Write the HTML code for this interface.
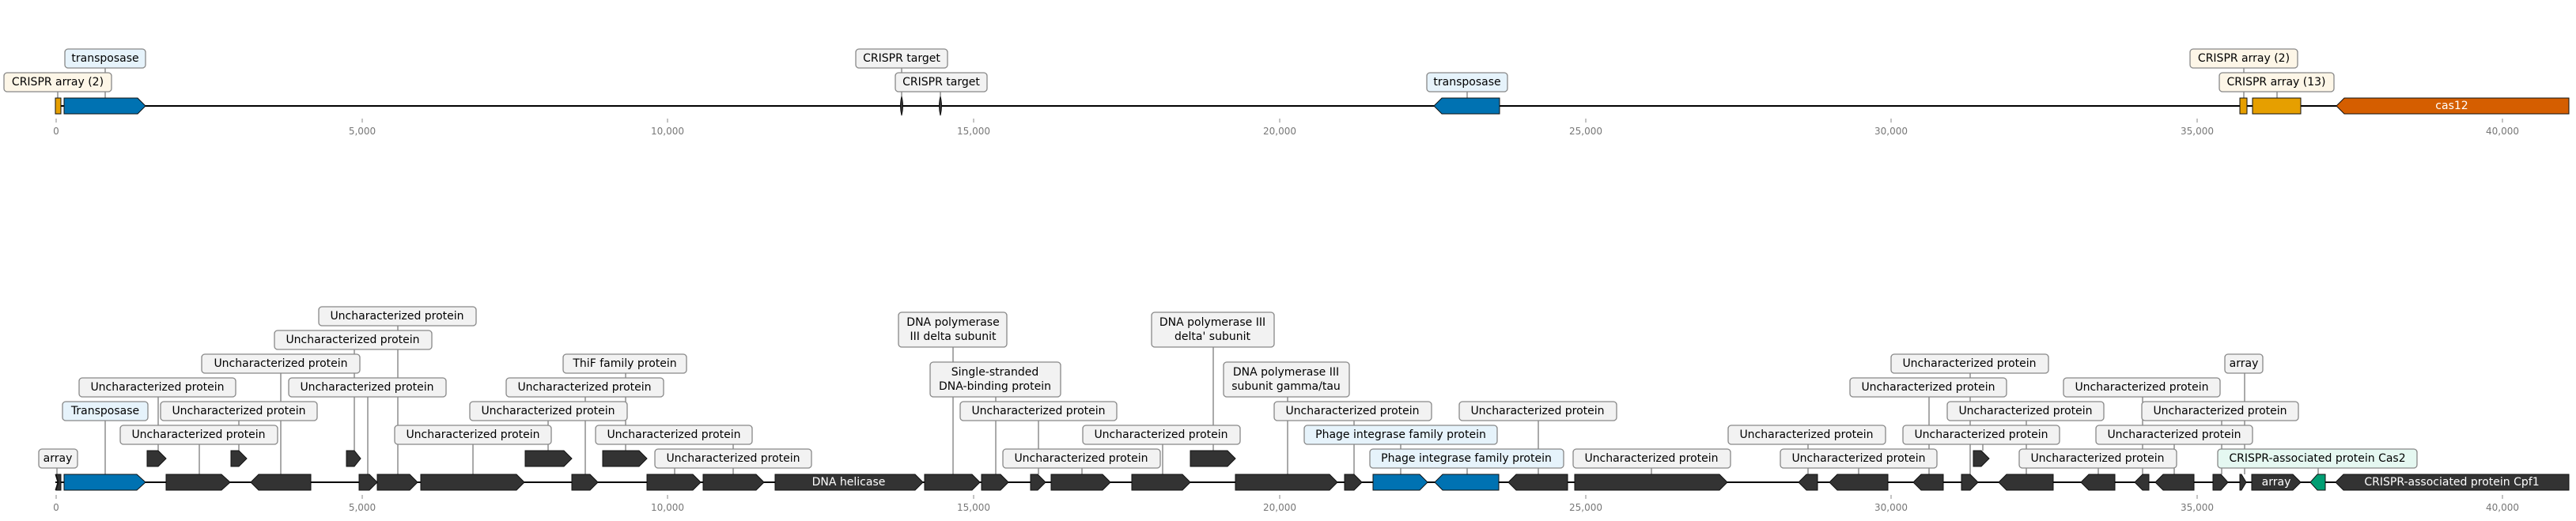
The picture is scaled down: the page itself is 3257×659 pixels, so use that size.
<!DOCTYPE html>
<html><head><meta charset="utf-8"><style>
html,body{margin:0;padding:0;background:#fff;}
svg{display:block;}
text{font-family:"DejaVu Sans","Liberation Sans",sans-serif;}
.lb{font-size:14px;fill:#000;text-anchor:middle;dominant-baseline:central;}
.ax{font-size:12px;fill:#777;text-anchor:middle;dominant-baseline:central;}
.g{fill:#333;stroke:#111;stroke-width:1;}
.bx{stroke:#888;stroke-width:1.3;}
.ln{stroke:#555;stroke-width:1;}
.wt{font-size:14px;fill:#fff;text-anchor:middle;dominant-baseline:central;}
</style></head><body>
<svg width="3257" height="659" viewBox="0 0 3257 659" xmlns="http://www.w3.org/2000/svg">
<!-- ===== TOP TRACK ===== -->
<g>
<line x1="70" y1="134" x2="3248" y2="134" stroke="#000" stroke-width="2"/>
<!-- lines -->
<line class="ln" x1="73" y1="104" x2="73" y2="124"/>
<line class="ln" x1="133" y1="74" x2="133" y2="124"/>
<line class="ln" x1="1140" y1="74" x2="1140" y2="124"/>
<line class="ln" x1="1189" y1="104" x2="1189" y2="124"/>
<line class="ln" x1="1855" y1="104" x2="1855" y2="124"/>
<line class="ln" x1="2837" y1="74" x2="2837" y2="124"/>
<line class="ln" x1="2879" y1="104" x2="2879" y2="124"/>
<!-- genes -->
<rect x="70" y="124" width="7" height="20" fill="#e69f00" stroke="#111"/>
<polygon points="81,124 174,124 184,134 174,144 81,144" fill="#0072b2" stroke="#111"/>
<path d="M1140,122 Q1137,134 1140,146 Q1143,134 1140,122Z" fill="#333" stroke="#111"/>
<path d="M1189,122 Q1186,134 1189,146 Q1192,134 1189,122Z" fill="#333" stroke="#111"/>
<polygon points="1813,134 1823,124 1896,124 1896,144 1823,144" fill="#0072b2" stroke="#111"/>
<rect x="2832" y="124" width="9" height="20" fill="#e69f00" stroke="#111"/>
<rect x="2848" y="124" width="61" height="20" fill="#e69f00" stroke="#111"/>
<polygon points="2954,134 2964,124 3248,124 3248,144 2964,144" fill="#d55e00" stroke="#111"/>
<text class="wt" x="3100" y="134">cas12</text>
<!-- labels -->
<rect class="bx" x="5" y="92" width="136" height="24" rx="4" fill="#fdf6e7"/><text class="lb" x="73" y="104">CRISPR array (2)</text>
<rect class="bx" x="82" y="62" width="102" height="24" rx="4" fill="#e6f3fb"/><text class="lb" x="133" y="74">transposase</text>
<rect class="bx" x="1082" y="62" width="116" height="24" rx="4" fill="#f2f2f2"/><text class="lb" x="1140" y="74">CRISPR target</text>
<rect class="bx" x="1132" y="92" width="116" height="24" rx="4" fill="#f2f2f2"/><text class="lb" x="1190" y="104">CRISPR target</text>
<rect class="bx" x="1804" y="92" width="102" height="24" rx="4" fill="#e6f3fb"/><text class="lb" x="1855" y="104">transposase</text>
<rect class="bx" x="2769" y="62" width="136" height="24" rx="4" fill="#fdf6e7"/><text class="lb" x="2837" y="74">CRISPR array (2)</text>
<rect class="bx" x="2806" y="92" width="145" height="24" rx="4" fill="#fdf6e7"/><text class="lb" x="2878" y="104">CRISPR array (13)</text>
<!-- axis -->
<g stroke="#888" stroke-width="1">
<line x1="71" y1="150" x2="71" y2="155"/><line x1="458" y1="150" x2="458" y2="155"/><line x1="844" y1="150" x2="844" y2="155"/><line x1="1231" y1="150" x2="1231" y2="155"/><line x1="1618" y1="150" x2="1618" y2="155"/><line x1="2005" y1="150" x2="2005" y2="155"/><line x1="2391" y1="150" x2="2391" y2="155"/><line x1="2778" y1="150" x2="2778" y2="155"/><line x1="3164" y1="150" x2="3164" y2="155"/>
</g>
<text class="ax" x="71" y="166">0</text><text class="ax" x="458" y="166">5,000</text><text class="ax" x="844" y="166">10,000</text><text class="ax" x="1231" y="166">15,000</text><text class="ax" x="1618" y="166">20,000</text><text class="ax" x="2005" y="166">25,000</text><text class="ax" x="2391" y="166">30,000</text><text class="ax" x="2778" y="166">35,000</text><text class="ax" x="3164" y="166">40,000</text>
</g>

<!-- ===== BOTTOM TRACK ===== -->
<g>
<line x1="70" y1="610" x2="3248" y2="610" stroke="#000" stroke-width="2"/>
<!-- connector lines -->
<g class="ln">
<line x1="72" y1="580" x2="72" y2="600"/>
<line x1="133" y1="520" x2="133" y2="600"/>
<line x1="200" y1="490" x2="200" y2="570"/>
<line x1="252" y1="550" x2="252" y2="600"/>
<line x1="302" y1="520" x2="302" y2="570"/>
<line x1="355" y1="460" x2="355" y2="600"/>
<line x1="448" y1="430" x2="448" y2="570"/>
<line x1="503" y1="400" x2="503" y2="600"/>
<line x1="465" y1="490" x2="465" y2="600"/>
<line x1="598" y1="550" x2="598" y2="600"/>
<line x1="791" y1="460" x2="791" y2="570"/>
<line x1="740" y1="490" x2="740" y2="600"/>
<line x1="693" y1="520" x2="693" y2="570"/>
<line x1="853" y1="580" x2="853" y2="600"/>
<line x1="927" y1="550" x2="927" y2="600"/>
<line x1="1205" y1="417" x2="1205" y2="600"/>
<line x1="1259" y1="480" x2="1259" y2="600"/>
<line x1="1313" y1="520" x2="1313" y2="600"/>
<line x1="1470" y1="550" x2="1470" y2="600"/>
<line x1="1368" y1="580" x2="1368" y2="600"/>
<line x1="1534" y1="417" x2="1534" y2="570"/>
<line x1="1628" y1="480" x2="1628" y2="600"/>
<line x1="1712" y1="520" x2="1712" y2="600"/>
<line x1="1771" y1="550" x2="1771" y2="600"/>
<line x1="1855" y1="580" x2="1855" y2="600"/>
<line x1="1945" y1="520" x2="1945" y2="600"/>
<line x1="2088" y1="580" x2="2088" y2="600"/>
<line x1="2286" y1="550" x2="2286" y2="600"/>
<line x1="2350" y1="580" x2="2350" y2="600"/>
<line x1="2439" y1="490" x2="2439" y2="600"/>
<line x1="2491" y1="460" x2="2491" y2="600"/>
<line x1="2507" y1="550" x2="2507" y2="570"/>
<line x1="2562" y1="520" x2="2562" y2="600"/>
<line x1="2653" y1="580" x2="2653" y2="600"/>
<line x1="2709" y1="490" x2="2709" y2="600"/>
<line x1="2749" y1="550" x2="2749" y2="600"/>
<line x1="2809" y1="520" x2="2809" y2="600"/>
<line x1="2838" y1="460" x2="2838" y2="600"/>
<line x1="2931" y1="580" x2="2931" y2="600"/>
</g>
<!-- genes main row (600-620) -->
<g class="g">
<polygon points="70,600 76,610 70,620 73,610"/>
<polygon points="71,600 77,600 77,620 71,620 74,610" />
<polygon points="81,600 173,600 184,610 173,620 81,620" fill="#0072b2"/>
<polygon points="210,600 280,600 291,610 280,620 210,620"/>
<polygon points="317,610 327,600 393,600 393,620 327,620"/>
<polygon points="454,600 467,600 477,610 467,620 454,620"/>
<polygon points="477,600 518,600 528,610 518,620 477,620"/>
<polygon points="532,600 653,600 663,610 653,620 532,620"/>
<polygon points="723,600 746,600 756,610 746,620 723,620"/>
<polygon points="818,600 876,600 886,610 876,620 818,620"/>
<polygon points="889,600 956,600 966,610 956,620 889,620"/>
<polygon points="980,600 1157,600 1167,610 1157,620 980,620"/>
<polygon points="1169,600 1229,600 1239,610 1229,620 1169,620"/>
<polygon points="1241,600 1265,600 1275,610 1265,620 1241,620"/>
<polygon points="1303,600 1312,600 1322,610 1312,620 1303,620"/>
<polygon points="1329,600 1394,600 1404,610 1394,620 1329,620"/>
<polygon points="1431,600 1495,600 1505,610 1495,620 1431,620"/>
<polygon points="1562,600 1681,600 1691,610 1681,620 1562,620"/>
<polygon points="1700,600 1712,600 1722,610 1712,620 1700,620"/>
<polygon points="1736,600 1795,600 1805,610 1795,620 1736,620" fill="#0072b2"/>
<polygon points="1814,610 1824,600 1895,600 1895,620 1824,620" fill="#0072b2"/>
<polygon points="1907,610 1917,600 1982,600 1982,620 1917,620"/>
<polygon points="1991,600 2174,600 2184,610 2174,620 1991,620"/>
<polygon points="2274,610 2284,600 2298,600 2298,620 2284,620"/>
<polygon points="2313,610 2323,600 2387,600 2387,620 2323,620"/>
<polygon points="2419,610 2429,600 2457,600 2457,620 2429,620"/>
<polygon points="2480,600 2491,600 2501,610 2491,620 2480,620"/>
<polygon points="2527,610 2537,600 2596,600 2596,620 2537,620"/>
<polygon points="2631,610 2641,600 2674,600 2674,620 2641,620"/>
<polygon points="2699,610 2709,600 2717,600 2717,620 2709,620"/>
<polygon points="2725,610 2735,600 2774,600 2774,620 2735,620"/>
<polygon points="2798,600 2808,600 2817,610 2808,620 2798,620"/>
<polygon points="2832,600 2834,600 2840,610 2834,620 2832,620"/>
<polygon points="2847,600 2899,600 2909,610 2899,620 2847,620"/>
<polygon points="2921,610 2930,600 2940,600 2940,620 2930,620" fill="#009e73"/>
<polygon points="2953,610 2963,600 3248,600 3248,620 2963,620"/>
</g>
<!-- genes upper row (570-590) -->
<g class="g">
<polygon points="186,570 200,570 210,580 200,590 186,590"/>
<polygon points="292,570 302,570 312,580 302,590 292,590"/>
<polygon points="438,570 448,570 456,580 448,590 438,590"/>
<polygon points="664,570 713,570 723,580 713,590 664,590"/>
<polygon points="762,570 808,570 818,580 808,590 762,590"/>
<polygon points="1505,570 1552,570 1562,580 1552,590 1505,590"/>
<polygon points="2495,570 2505,570 2515,580 2505,590 2495,590"/>
</g>
<text class="wt" x="1073" y="610">DNA helicase</text>
<text class="wt" x="2878" y="610">array</text>
<text class="wt" x="3100" y="610">CRISPR-associated protein Cpf1</text>

<!-- label boxes -->
<g>
<rect class="bx" x="49" y="568" width="49" height="24" rx="4" fill="#f2f2f2"/><text class="lb" x="73" y="580">array</text>
<rect class="bx" x="79" y="508" width="108" height="24" rx="4" fill="#e6f3fb"/><text class="lb" x="133" y="520">Transposase</text>
<rect class="bx" x="100" y="478" width="198" height="24" rx="4" fill="#f2f2f2"/><text class="lb" x="199" y="490">Uncharacterized protein</text>
<rect class="bx" x="152" y="538" width="199" height="24" rx="4" fill="#f2f2f2"/><text class="lb" x="251" y="550">Uncharacterized protein</text>
<rect class="bx" x="203" y="508" width="198" height="24" rx="4" fill="#f2f2f2"/><text class="lb" x="302" y="520">Uncharacterized protein</text>
<rect class="bx" x="255" y="448" width="200" height="24" rx="4" fill="#f2f2f2"/><text class="lb" x="355" y="460">Uncharacterized protein</text>
<rect class="bx" x="347" y="418" width="199" height="24" rx="4" fill="#f2f2f2"/><text class="lb" x="446" y="430">Uncharacterized protein</text>
<rect class="bx" x="403" y="388" width="199" height="24" rx="4" fill="#f2f2f2"/><text class="lb" x="502" y="400">Uncharacterized protein</text>
<rect class="bx" x="365" y="478" width="199" height="24" rx="4" fill="#f2f2f2"/><text class="lb" x="464" y="490">Uncharacterized protein</text>
<rect class="bx" x="499" y="538" width="198" height="24" rx="4" fill="#f2f2f2"/><text class="lb" x="598" y="550">Uncharacterized protein</text>
<rect class="bx" x="712" y="448" width="156" height="24" rx="4" fill="#f2f2f2"/><text class="lb" x="790" y="460">ThiF family protein</text>
<rect class="bx" x="640" y="478" width="199" height="24" rx="4" fill="#f2f2f2"/><text class="lb" x="739" y="490">Uncharacterized protein</text>
<rect class="bx" x="594" y="508" width="199" height="24" rx="4" fill="#f2f2f2"/><text class="lb" x="693" y="520">Uncharacterized protein</text>
<rect class="bx" x="753" y="538" width="198" height="24" rx="4" fill="#f2f2f2"/><text class="lb" x="852" y="550">Uncharacterized protein</text>
<rect class="bx" x="828" y="568" width="198" height="24" rx="4" fill="#f2f2f2"/><text class="lb" x="927" y="580">Uncharacterized protein</text>

<rect class="bx" x="1136" y="395" width="137" height="44" rx="4" fill="#f2f2f2"/><text class="lb" x="1205" y="408">DNA polymerase</text><text class="lb" x="1205" y="426">III delta subunit</text>
<rect class="bx" x="1176" y="458" width="165" height="44" rx="4" fill="#f2f2f2"/><text class="lb" x="1258" y="471">Single-stranded</text><text class="lb" x="1258" y="489">DNA-binding protein</text>
<rect class="bx" x="1214" y="508" width="198" height="24" rx="4" fill="#f2f2f2"/><text class="lb" x="1313" y="520">Uncharacterized protein</text>
<rect class="bx" x="1369" y="538" width="199" height="24" rx="4" fill="#f2f2f2"/><text class="lb" x="1468" y="550">Uncharacterized protein</text>
<rect class="bx" x="1268" y="568" width="199" height="24" rx="4" fill="#f2f2f2"/><text class="lb" x="1367" y="580">Uncharacterized protein</text>
<rect class="bx" x="1456" y="395" width="155" height="44" rx="4" fill="#f2f2f2"/><text class="lb" x="1533" y="408">DNA polymerase III</text><text class="lb" x="1533" y="426">delta' subunit</text>
<rect class="bx" x="1547" y="458" width="159" height="44" rx="4" fill="#f2f2f2"/><text class="lb" x="1626" y="471">DNA polymerase III</text><text class="lb" x="1626" y="489">subunit gamma/tau</text>
<rect class="bx" x="1611" y="508" width="199" height="24" rx="4" fill="#f2f2f2"/><text class="lb" x="1710" y="520">Uncharacterized protein</text>
<rect class="bx" x="1649" y="538" width="244" height="24" rx="4" fill="#e6f3fb"/><text class="lb" x="1771" y="550">Phage integrase family protein</text>
<rect class="bx" x="1732" y="568" width="245" height="24" rx="4" fill="#e6f3fb"/><text class="lb" x="1854" y="580">Phage integrase family protein</text>
<rect class="bx" x="1845" y="508" width="199" height="24" rx="4" fill="#f2f2f2"/><text class="lb" x="1944" y="520">Uncharacterized protein</text>
<rect class="bx" x="1989" y="568" width="199" height="24" rx="4" fill="#f2f2f2"/><text class="lb" x="2088" y="580">Uncharacterized protein</text>

<rect class="bx" x="2185" y="538" width="199" height="24" rx="4" fill="#f2f2f2"/><text class="lb" x="2284" y="550">Uncharacterized protein</text>
<rect class="bx" x="2251" y="568" width="198" height="24" rx="4" fill="#f2f2f2"/><text class="lb" x="2350" y="580">Uncharacterized protein</text>
<rect class="bx" x="2339" y="478" width="198" height="24" rx="4" fill="#f2f2f2"/><text class="lb" x="2438" y="490">Uncharacterized protein</text>
<rect class="bx" x="2391" y="448" width="199" height="24" rx="4" fill="#f2f2f2"/><text class="lb" x="2490" y="460">Uncharacterized protein</text>
<rect class="bx" x="2406" y="538" width="198" height="24" rx="4" fill="#f2f2f2"/><text class="lb" x="2505" y="550">Uncharacterized protein</text>
<rect class="bx" x="2462" y="508" width="198" height="24" rx="4" fill="#f2f2f2"/><text class="lb" x="2561" y="520">Uncharacterized protein</text>
<rect class="bx" x="2553" y="568" width="199" height="24" rx="4" fill="#f2f2f2"/><text class="lb" x="2652" y="580">Uncharacterized protein</text>
<rect class="bx" x="2609" y="478" width="198" height="24" rx="4" fill="#f2f2f2"/><text class="lb" x="2708" y="490">Uncharacterized protein</text>
<rect class="bx" x="2650" y="538" width="198" height="24" rx="4" fill="#f2f2f2"/><text class="lb" x="2749" y="550">Uncharacterized protein</text>
<rect class="bx" x="2708" y="508" width="198" height="24" rx="4" fill="#f2f2f2"/><text class="lb" x="2807" y="520">Uncharacterized protein</text>
<rect class="bx" x="2813" y="448" width="48" height="24" rx="4" fill="#f2f2f2"/><text class="lb" x="2837" y="460">array</text>
<rect class="bx" x="2804" y="568" width="252" height="24" rx="4" fill="#e5f8f1"/><text class="lb" x="2930" y="580">CRISPR-associated protein Cas2</text>
</g>

<!-- axis -->
<g stroke="#888" stroke-width="1">
<line x1="71" y1="626" x2="71" y2="631"/><line x1="458" y1="626" x2="458" y2="631"/><line x1="844" y1="626" x2="844" y2="631"/><line x1="1231" y1="626" x2="1231" y2="631"/><line x1="1618" y1="626" x2="1618" y2="631"/><line x1="2005" y1="626" x2="2005" y2="631"/><line x1="2391" y1="626" x2="2391" y2="631"/><line x1="2778" y1="626" x2="2778" y2="631"/><line x1="3164" y1="626" x2="3164" y2="631"/>
</g>
<text class="ax" x="71" y="642">0</text><text class="ax" x="458" y="642">5,000</text><text class="ax" x="844" y="642">10,000</text><text class="ax" x="1231" y="642">15,000</text><text class="ax" x="1618" y="642">20,000</text><text class="ax" x="2005" y="642">25,000</text><text class="ax" x="2391" y="642">30,000</text><text class="ax" x="2778" y="642">35,000</text><text class="ax" x="3164" y="642">40,000</text>
</g>
</svg>
</body></html>
